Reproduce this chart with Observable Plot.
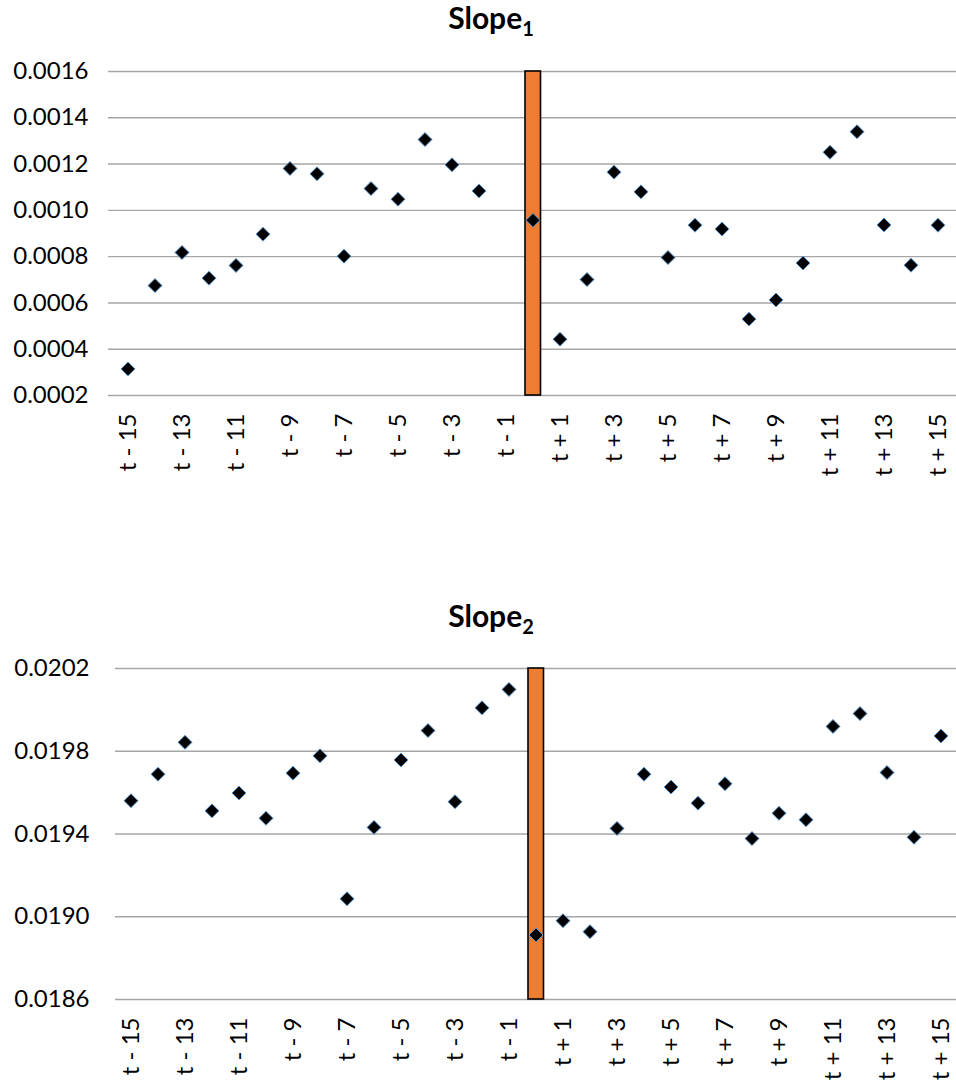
<!DOCTYPE html>
<html><head><meta charset="utf-8">
<script src="https://cdn.jsdelivr.net/npm/d3@7"></script>
<script src="https://cdn.jsdelivr.net/npm/@observablehq/plot@0.6"></script>
<style>
body{margin:0;background:#fff;font-family:Lato,sans-serif;}
#wrap{position:relative;width:956px;height:1080px;overflow:hidden}
.title{position:absolute;left:0;width:982px;text-align:center;font-weight:bold;font-size:30px;color:#000;line-height:1;z-index:2}
.title sub{font-size:20px;vertical-align:baseline;position:relative;top:7px}
.chart{position:absolute;left:0}
</style></head><body>
<div id="wrap">
 <div class="chart" id="c1" style="top:0"></div>
 <div class="chart" id="c2" style="top:600px"></div>
 <div class="title" style="top:2px">Slope<sub>1</sub></div>
 <div class="title" style="top:600px">Slope<sub>2</sub></div>
</div>
<script>
const categories = ["t - 15","t - 14","t - 13","t - 12","t - 11","t - 10","t - 9","t - 8","t - 7","t - 6","t - 5","t - 4","t - 3","t - 2","t - 1","t","t + 1","t + 2","t + 3","t + 4","t + 5","t + 6","t + 7","t + 8","t + 9","t + 10","t + 11","t + 12","t + 13","t + 14","t + 15"];
const slope1 = [0.000315,0.000675,0.000818,0.000707,0.000762,0.000897,0.001181,0.001158,0.000802,0.001094,0.001048,0.001306,0.001197,0.001084,null,0.000957,0.000443,0.000701,0.001165,0.00108,0.000796,0.000936,0.000919,0.00053,0.000613,0.000772,0.001251,0.00134,0.000937,0.000763,0.000936];
const slope2 = [0.019561,0.019689,0.019843,0.019512,0.019598,0.019476,0.019694,0.019778,0.019087,0.019432,0.019758,0.0199,0.019556,0.02001,0.020099,0.018912,0.018981,0.018928,0.019427,0.019689,0.019627,0.019549,0.019643,0.019378,0.0195,0.019469,0.01992,0.019982,0.019697,0.019384,0.019874];
const eventCategory = "t";
const ticks1 = [0.0002,0.0004,0.0006,0.0008,0.0010,0.0012,0.0014,0.0016];
const ticks2 = [0.0186,0.0190,0.0194,0.0198,0.0202];
const xTickLabels = categories.filter((d,i)=>i%2===0);

function chart({values, ticks, marginLeft, marginTop, plotHeight, marginBottom, tickPad}) {
  const data = categories.map((c,i)=>({c, v: values[i]})).filter(d=>d.v!=null);
  const yMin = ticks[0], yMax = ticks[ticks.length-1];
  return Plot.plot({
    width: 956, height: marginTop+plotHeight+marginBottom,
    marginLeft, marginRight: 0, marginTop, marginBottom,
    style: {fontFamily: "Lato, sans-serif", fontSize: "24px", color: "#000", background: "transparent", overflow: "visible"},
    x: {type:"band", domain: categories, padding: 0, label: null},
    y: {domain: [yMin,yMax], label: null},
    marks: [
      Plot.ruleY(ticks, {stroke:"#a6a6a6", strokeWidth:1.4}),
      Plot.barY([eventCategory], {x: d=>d, y1: ()=>yMin, y2: ()=>yMax, fill:"#ED7D31", stroke:"#000", strokeWidth:1.6, insetLeft:6, insetRight:5.5}),
      Plot.dot(data, {x:"c", y:"v", symbol:"diamond2", r:6.3, fill:"#000", stroke:"#5B9BD5", strokeWidth:1}),
      Plot.axisY({ticks, tickFormat: d3.format(".4f"), tickSize:0, tickPadding: tickPad, label:null}),
      Plot.axisX({ticks: xTickLabels, tickSize:0, tickPadding:18, tickRotate:-90, label:null})
    ]
  });
}
document.getElementById("c1").appendChild(chart({values: slope1, ticks: ticks1, marginLeft:108, marginTop:71, plotHeight:324, marginBottom:105, tickPad:20}));
document.getElementById("c2").appendChild(chart({values: slope2, ticks: ticks2, marginLeft:115, marginTop:68, plotHeight:331, marginBottom:81, tickPad:26}));
</script>
</body></html>
